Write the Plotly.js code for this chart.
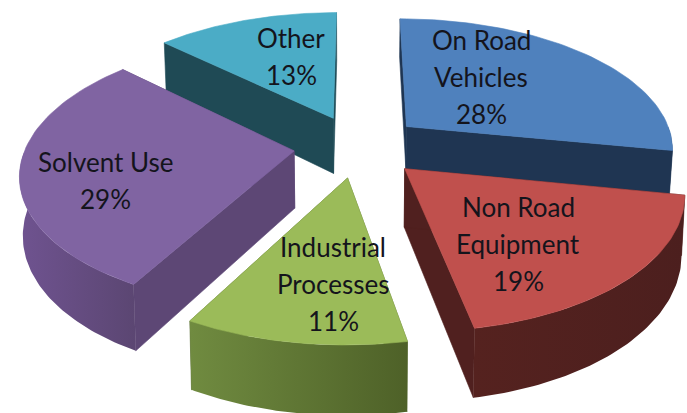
<!DOCTYPE html>
<html>
<head>
<meta charset="utf-8">
<script src="https://cdn.plot.ly/plotly-3.0.1.min.js"></script>
<style>html,body{margin:0;padding:0;background:#fff}#c{width:687px;height:413px}</style>
</head>
<body>
<div id="c"></div>
<script>
// --- data ---
const categories = ["On Road Vehicles", "Non Road Equipment", "Industrial Processes", "Solvent Use", "Other"];
const shares = [28, 19, 11, 29, 13];
const labelLines = [["On Road", "Vehicles"], ["Non Road", "Equipment"], ["Industrial", "Processes"], ["Solvent Use"], ["Other"]];

// --- styles ---
const topColors = ["#4f81bd", "#c0504d", "#9bbb59", "#8064a2", "#4bacc6"];
const wallColors = ["#1f3552", "#50201f", "#55692f", "#5d4775", "#1f4a55"];
const rimGradients = [
  ["#1f3552", "#1f3552"], ["#55221f", "#4c1f1e"], ["#708b40", "#4e6128"],
  ["#6f5390", "#5b4672"], ["#1f4a55", "#1f4a55"]
];
const depths = [45, 57, 57, 57, 57];
const labelPos = [[481, 40], [518, 207], [333, 247], [105, 162], [291, 38]];
const drawOrder = [4, 0, 3, 2, 1];
const lineGap = 37;

// --- projection of the exploded pie ---
const cam = {cx: 358, cy: 146, fx: 268, fy: 130, g: 0.155, pull: 0.24, bottomShrink: 0.99};
function project(X, Y, depth) {
  const w = 1 + cam.g * Y;
  const k = depth ? cam.bottomShrink : 1;
  return [cam.cx + k * cam.fx * X / w, cam.cy - cam.fy * Y / w + (depth || 0) / w];
}

const total = shares.reduce((a, b) => a + b, 0);
let acc = 0;
const slices = shares.map(v => {
  const a0 = acc / total * 2 * Math.PI;
  acc += v;
  const a1 = acc / total * 2 * Math.PI;
  return {a0, a1, mid: (a0 + a1) / 2};
});

function rimPoint(s, a, depth) {
  return project(cam.pull * Math.sin(s.mid) + Math.sin(a), cam.pull * Math.cos(s.mid) + Math.cos(a), depth);
}
function apex(s, depth) {
  return project(cam.pull * Math.sin(s.mid), cam.pull * Math.cos(s.mid), depth);
}
function arc(s, depth, from, to) {
  const a = from === undefined ? s.a0 : from, b = to === undefined ? s.a1 : to;
  const pts = [], n = 60;
  for (let i = 0; i <= n; i++) pts.push(rimPoint(s, a + (b - a) * i / n, depth));
  return pts;
}
function poly(pts, color, gradient) {
  const closed = pts.concat([pts[0]]);
  const t = {
    type: "scatter", mode: "lines", x: closed.map(p => p[0]), y: closed.map(p => p[1]),
    fill: "toself", fillcolor: color, line: {color: color, width: 0.6},
    hoverinfo: "skip", showlegend: false
  };
  if (gradient) {
    t.fillgradient = {type: "horizontal", colorscale: [[0, gradient[0]], [1, gradient[1]]]};
    t.line = {width: 0};
  }
  return t;
}

const traces = [];
drawOrder.forEach(i => {
  const s = slices[i], d = depths[i];
  const top = arc(s, 0), bot = arc(s, d);
  const A = apex(s, 0), B = apex(s, d);
  traces.push(poly([A, top[top.length - 1], bot[bot.length - 1], B], wallColors[i]));
  traces.push(poly([A, top[0], bot[0], B], wallColors[i]));
  // outer wall: only the part of the rim that faces the viewer
  const from = Math.max(s.a0, Math.PI / 2), to = Math.min(s.a1, 3 * Math.PI / 2);
  if (to > from) {
    const t = arc(s, 0, from, to), b = arc(s, d, from, to);
    traces.push(poly(t.concat(b.reverse()), wallColors[i], rimGradients[i]));
  }
  traces.push(poly([A].concat(top), topColors[i]));
});

const annotations = [];
categories.forEach((c, i) => {
  labelLines[i].concat([shares[i] + "%"]).forEach((txt, j) => {
    annotations.push({
      x: labelPos[i][0], y: labelPos[i][1] + j * lineGap, xref: "x", yref: "y",
      text: txt, showarrow: false, xanchor: "center", yanchor: "middle",
      font: {family: "Lato, 'Open Sans', sans-serif", size: 26, color: "#14141c"}
    });
  });
});

const hidden = {visible: false, fixedrange: true, showgrid: false, zeroline: false};
Plotly.newPlot("c", traces, {
  width: 687, height: 413,
  margin: {l: 0, r: 0, t: 0, b: 0},
  paper_bgcolor: "#fff", plot_bgcolor: "#fff",
  showlegend: false,
  xaxis: Object.assign({range: [0, 687]}, hidden),
  yaxis: Object.assign({range: [413, 0]}, hidden),
  annotations: annotations
}, {displayModeBar: false, staticPlot: true});
</script>
</body>
</html>
